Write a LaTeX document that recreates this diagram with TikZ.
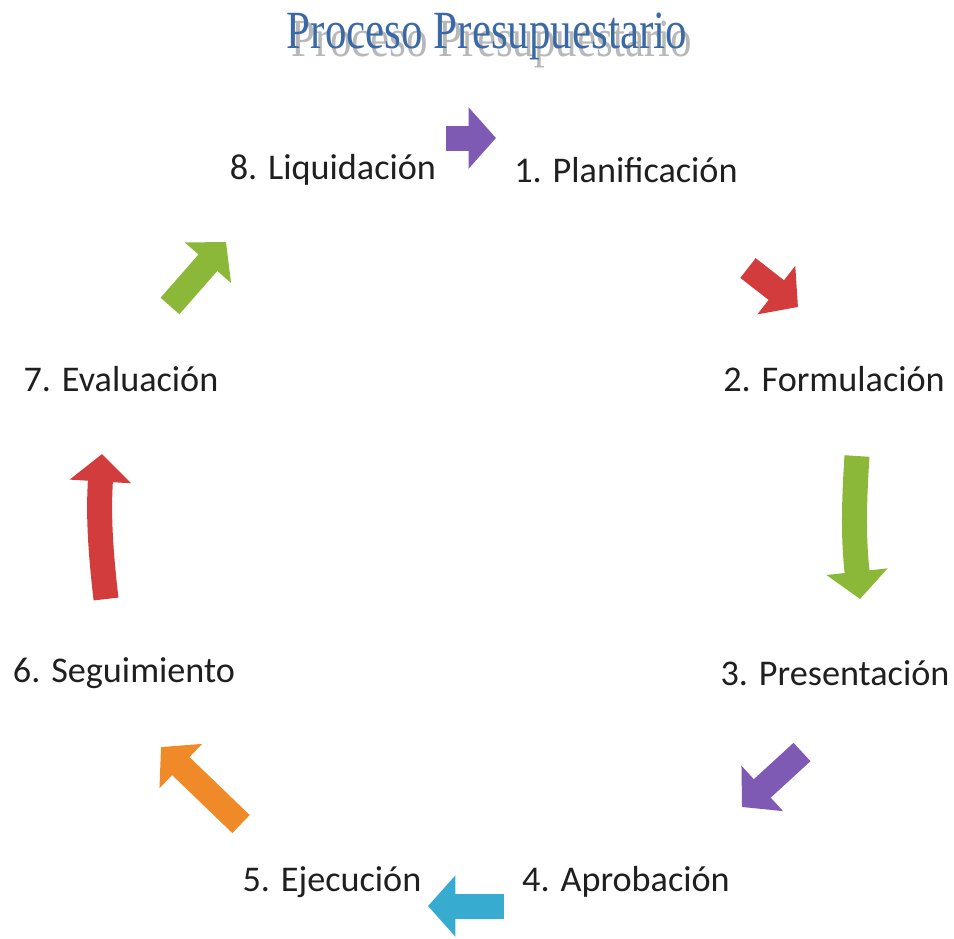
\documentclass[tikz,border=0pt]{standalone}
\usepackage{fontspec}
\setmainfont{Carlito}
\newfontfamily\titlefont{Liberation Serif}
\usetikzlibrary{arrows.meta}
\definecolor{arrpurple}{HTML}{7E5AB4}
\definecolor{arrred}{HTML}{D23C3C}
\definecolor{arrgreen}{HTML}{8CB83A}
\definecolor{arrcyan}{HTML}{38ACD0}
\definecolor{arrorange}{HTML}{F08A28}
\definecolor{titleblue}{HTML}{3A69A6}
\begin{document}
\begin{tikzpicture}[x=0.02cm, y=-0.02cm,
		stage/.style={font=\fontsize{20.6}{24}\selectfont, text=black!88},
		titletext/.style={font=\titlefont\fontsize{30.6}{34}\selectfont, xscale=0.8},
		blockarrow/.style={line width=0.5cm, -{Triangle[length=0.55cm, width=1.2cm]}}
		]
		\useasboundingbox (0,0) rectangle (954,938);
		
		% Title with shadow
		\node[titletext, text=black!35, opacity=0.8] (shadow) at (492,44) {Proceso Presupuestario};
		\node[titletext, text=titleblue] (title) at (487,36) {Proceso Presupuestario};
		
		% Stages
		\node[stage] (plan) at (626,170) {1. Planificación};
		\node[stage] (form) at (834,379) {2. Formulación};
		\node[stage] (pres) at (835,673) {3. Presentación};
		\node[stage] (apro) at (626,882) {4. Aprobación};
		\node[stage] (ejec) at (332,882) {5. Ejecución};
		\node[stage] (segu) at (124,673) {6. Seguimiento};
		\node[stage] (eval) at (121,379) {7. Evaluación};
		\node[stage] (liqu) at (333,170) {8. Liquidación};
		
		% Arrow ends
		\coordinate (a1s) at (446,138);
		\coordinate (a1e) at (496,138);
		\coordinate (a2s) at (748,268);
		\coordinate (a2e) at (798,307);
		\coordinate (a3s) at (857,456);
		\coordinate (a3e) at (860,599);
		\coordinate (a4s) at (802,752);
		\coordinate (a4e) at (742,807);
		\coordinate (a5s) at (504,906);
		\coordinate (a5e) at (428,906);
		\coordinate (a6s) at (241,824);
		\coordinate (a6e) at (161,747);
		\coordinate (a7s) at (106,599);
		\coordinate (a7e) at (102,454);
		\coordinate (a8s) at (170,306);
		\coordinate (a8e) at (226,242);
		
		% Arrows
		\draw[blockarrow, arrpurple] (a1s) -- (a1e);
		\draw[blockarrow, arrred] (a2s) -- (a2e);
		\draw[blockarrow, arrgreen] (a3s) to[bend right=5] (a3e);
		\draw[blockarrow, arrpurple] (a4s) -- (a4e);
		\draw[blockarrow, arrcyan] (a5s) -- (a5e);
		\draw[blockarrow, arrorange] (a6s) -- (a6e);
		\draw[blockarrow, arrred] (a7s) to[bend left=5] (a7e);
		\draw[blockarrow, arrgreen] (a8s) -- (a8e);
		
	\end{tikzpicture}
\end{document}
